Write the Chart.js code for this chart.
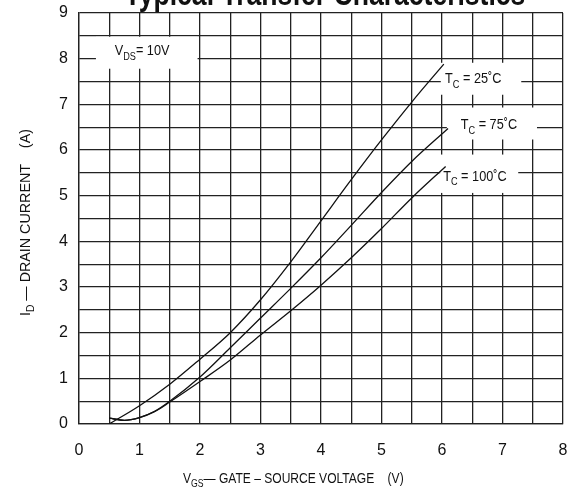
<!DOCTYPE html>
<html><head><meta charset="utf-8">
<script src="https://cdn.jsdelivr.net/npm/chart.js@4"></script>
<style>html,body{margin:0;padding:0;background:#fff}#wrap{width:582px;height:488px;position:relative}</style>
</head><body><div id="wrap"><canvas id="c" width="582" height="488"></canvas></div>
<script>
// ---- data ----
const xTickLabels = ['0','1','2','3','4','5','6','7','8'];
const yTickLabels = ['0','1','2','3','4','5','6','7','8','9'];
const vgs25  = [0.5, 1.0, 1.5, 2.0, 2.5, 3.0, 3.5, 4.0, 4.5, 5.0, 5.5, 6.03];
const id25   = [0.0, 0.40, 0.87, 1.42, 2.0, 2.72, 3.55, 4.45, 5.35, 6.22, 7.05, 7.88];
const vgs75  = [0.5, 0.75, 1.0, 1.25, 1.5, 2.0, 2.5, 3.0, 3.5, 4.0, 4.5, 5.0, 5.5, 6.1];
const id75   = [0.13, 0.08, 0.14, 0.28, 0.50, 1.03, 1.67, 2.32, 2.97, 3.64, 4.35, 5.07, 5.75, 6.47];
const vgs100 = [0.5, 0.75, 1.0, 1.25, 1.5, 2.0, 2.5, 3.0, 3.5, 4.0, 4.5, 5.0, 5.5, 6.06];
const id100  = [0.13, 0.08, 0.14, 0.27, 0.48, 0.93, 1.40, 1.95, 2.48, 3.04, 3.64, 4.28, 4.95, 5.64];
const seriesNames = ['TC = 25°C', 'TC = 75°C', 'TC = 100°C'];

// ---- fonts ----
function hasFont(name){
  const c=document.createElement('canvas').getContext('2d');
  c.font='40px monospace'; const a=c.measureText('abcdefghiWWMM').width;
  c.font='40px "'+name+'", monospace'; return c.measureText('abcdefghiWWMM').width!==a;
}
const NARROW = hasFont('Liberation Sans Narrow');
function famOf(narrow){ return narrow ? (NARROW ? '"Liberation Sans Narrow"' : '"Liberation Sans"') : '"Liberation Sans"'; }
function drawRich(ctx, parts, x, y, size, weight, narrow){
  if(narrow===undefined) narrow=true;
  const squeeze = narrow && !NARROW;
  ctx.save(); ctx.translate(x,y); if(squeeze) ctx.scale(0.82,1);
  ctx.fillStyle='#111'; ctx.textBaseline='alphabetic'; ctx.textAlign='left';
  let off=0;
  for(const p of parts){
    const s = p.sub ? size*0.72 : size;
    ctx.font = (weight||'normal')+' '+s+'px '+famOf(narrow);
    ctx.fillText(p.t, off, p.sub ? size*0.3 : 0);
    off += ctx.measureText(p.t).width;
  }
  ctx.restore();
}
function richWidth(ctx, parts, size, weight){
  ctx.save(); let w=0;
  for(const p of parts){ const s=p.sub?size*0.72:size; ctx.font=(weight||'normal')+' '+s+'px '+famOf(true); w+=ctx.measureText(p.t).width; }
  ctx.restore(); return NARROW ? w : w*0.82;
}

// annotation boxes (data coordinates) and their texts
const notes = [
  {box:[0.28,8.48,1.96,7.78], at:[0.59,8.07], parts:[{t:'V'},{t:'DS',sub:true},{t:'= 10V'}]},
  {box:[5.98,7.91,7.31,7.21], at:[6.05,7.47], parts:[{t:'T'},{t:'C',sub:true},{t:' = 25˚C'}]},
  {box:[6.08,6.93,7.57,6.23], at:[6.31,6.45], parts:[{t:'T'},{t:'C',sub:true},{t:' = 75˚C'}]},
  {box:[5.97,5.90,7.26,5.06], at:[6.02,5.33], parts:[{t:'T'},{t:'C',sub:true},{t:' = 100˚C'}]}
];

const decor = {
  id:'decor',
  beforeDatasetsDraw(chart){
    const {ctx, scales:{x,y}} = chart;
    for(const n of notes){
      const x0=x.getPixelForValue(n.box[0]), y0=y.getPixelForValue(n.box[1]);
      const x1=x.getPixelForValue(n.box[2]), y1=y.getPixelForValue(n.box[3]);
      ctx.save(); ctx.fillStyle='#fff'; ctx.fillRect(x0,y0,x1-x0,y1-y0); ctx.restore();
      drawRich(ctx, n.parts, x.getPixelForValue(n.at[0]), y.getPixelForValue(n.at[1]), 15.5);
    }
  },
  afterDraw(chart){
    const ctx = chart.ctx, ca = chart.chartArea;
    // title (partly cut off at the top)
    const tparts=[{t:'Typical Transfer Characteristics'}];
    let ts=30; const w0=richWidth(ctx,tparts,ts,'bold'); ts=ts*401/w0;
    drawRich(ctx, tparts, (ca.left+ca.right)/2 + 4 - 401/2, 5, ts, 'bold');
    // x title
    drawRich(ctx, [{t:'V'},{t:'GS',sub:true},{t:'— GATE – SOURCE VOLTAGE    (V)'}], 183, 483, 14.7);
    // y title
    ctx.save(); ctx.translate(29.5, 316); ctx.rotate(-Math.PI/2);
    drawRich(ctx, [{t:'I'},{t:'D',sub:true},{t:' — DRAIN CURRENT    (A)'}], 0, 0, 14.3, 'normal', false);
    ctx.restore();
  }
};

const mk = (xs, ys) => xs.map((v,i)=>({x:v, y:ys[i]}));
const lineStyle = {borderColor:'#111', borderWidth:1.3, pointRadius:0, fill:false, cubicInterpolationMode:'monotone'};
const gridStyle = {color:'#222', lineWidth:1.3, drawTicks:false};
const tickFont = {family:'"Liberation Sans", Arial, sans-serif', size:16};

new Chart(document.getElementById('c'), {
  type:'line',
  data:{datasets:[
    Object.assign({label:seriesNames[0], data:mk(vgs25,id25)}, lineStyle),
    Object.assign({label:seriesNames[1], data:mk(vgs75,id75)}, lineStyle),
    Object.assign({label:seriesNames[2], data:mk(vgs100,id100)}, lineStyle)
  ]},
  options:{
    responsive:false, animation:false, devicePixelRatio:1,
    layout:{padding:{top:13, right:19, left:0, bottom:0}},
    plugins:{legend:{display:false}, tooltip:{enabled:false}, title:{display:false}},
    scales:{
      x:{type:'linear', min:0, max:8,
         ticks:{stepSize:0.5, autoSkip:false, maxRotation:0, padding:17, color:'#111', font:tickFont,
                callback:v=>Number.isInteger(v)?xTickLabels[v]:''},
         grid:gridStyle, border:{color:'#222', width:1.3},
         afterFit:s=>{s.height=64; s.paddingLeft=0; s.paddingRight=0;}},
      y:{type:'linear', min:0, max:9,
         ticks:{stepSize:0.5, autoSkip:false, padding:11, color:'#111', font:tickFont,
                callback:v=>Number.isInteger(v)?yTickLabels[v]:''},
         grid:gridStyle, border:{color:'#222', width:1.3},
         afterFit:s=>{s.width=79; s.paddingTop=0; s.paddingBottom=0;}}
    }
  },
  plugins:[decor]
});
</script></body></html>
